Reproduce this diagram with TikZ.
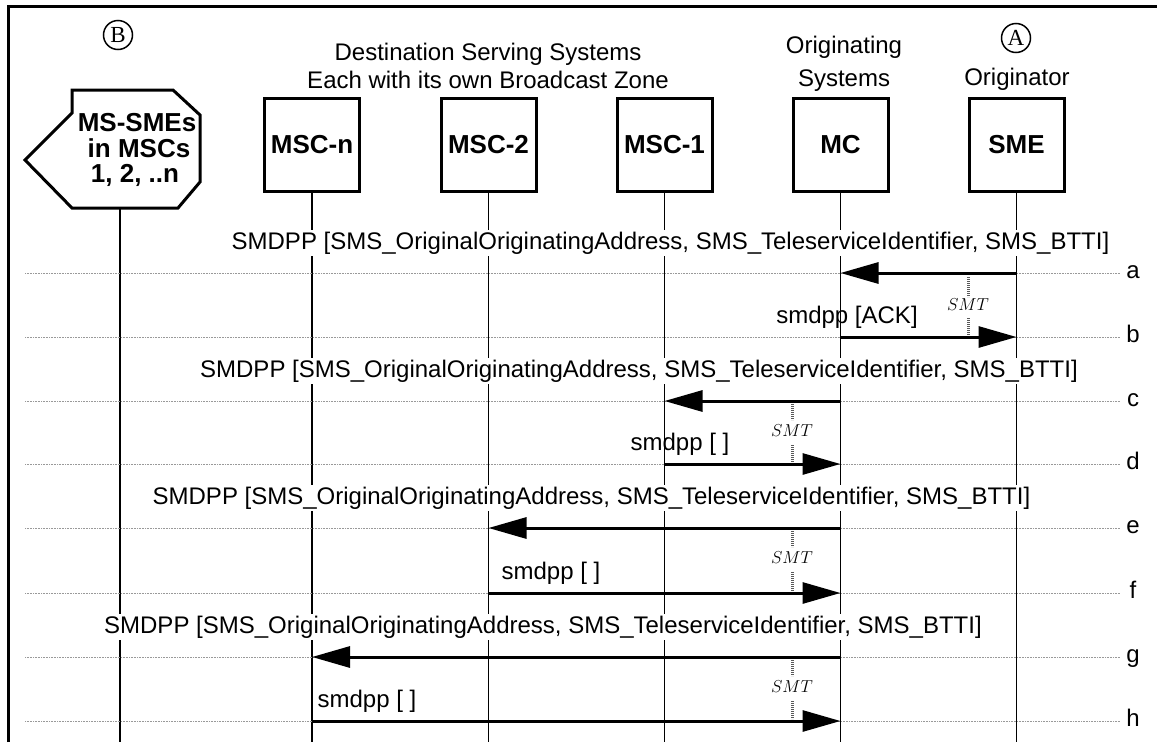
\documentclass[tikz,border=0pt]{standalone}
\usepackage{fontspec}
\setmainfont{Liberation Sans}
\newfontfamily\serifletters{Liberation Serif}
\usetikzlibrary{arrows.meta}
\begin{document}
\begin{tikzpicture}[x=1pt,y=-1pt,
  entbox/.style={draw,line width=3pt,minimum width=95pt,minimum height=93pt,inner sep=0pt,font=\fontsize{26}{30}\selectfont\bfseries},
  boldtxt/.style={anchor=base,inner sep=0pt,font=\fontsize{26}{30}\selectfont\bfseries},
  headtxt/.style={anchor=base,inner sep=0pt,font=\fontsize{24}{28}\selectfont},
  circletag/.style={draw,circle,line width=1.5pt,minimum size=29pt,inner sep=0pt,font=\serifletters\fontsize{23}{25}\selectfont},
  lifeline/.style={line width=1.3pt},
  guide/.style={line width=1pt,black!40,dash pattern=on 0.8pt off 0.8pt},
  msgarrow/.style={line width=3pt,-{Triangle[length=38pt,width=21pt]}},
  biglabel/.style={anchor=base,fill=white,inner xsep=1pt,inner ysep=2pt,font=\fontsize{24}{28}\selectfont},
  smalllabel/.style={anchor=base,inner sep=0pt,font=\fontsize{24}{28}\selectfont},
  rowtag/.style={anchor=base,inner sep=0pt,font=\fontsize{24}{28}\selectfont},
  smtdash/.style={line width=3pt,black!65,dash pattern=on 1.2pt off 0.8pt},
  smttxt/.style={inner sep=0pt,font=\fontsize{18}{20}\selectfont}
]
\useasboundingbox (0,0) rectangle (1157,742);
% frame
\draw[line width=3pt] (8,742) -- (8,6) -- (1157,6);

% coordinates
\coordinate (bot) at (0,742);
\coordinate (gl) at (25,0);
\coordinate (gr) at (1120,0);
\coordinate (tagx) at (1133,0);
\coordinate (rowa) at (0,273);
\coordinate (rowb) at (0,337);
\coordinate (rowc) at (0,401);
\coordinate (rowd) at (0,464);
\coordinate (rowe) at (0,528);
\coordinate (rowf) at (0,593);
\coordinate (rowg) at (0,657);
\coordinate (rowh) at (0,721);

% headings
\node[circletag] (tagB) at (118,35) {B};
\node[circletag] (tagA) at (1016,38) {A};
\node[headtxt] (dest1) at (488,60) {Destination Serving Systems};
\node[headtxt] (dest2) at (488,88) {Each with its own Broadcast Zone};
\node[headtxt] (orig1) at (844,53) {Originating};
\node[headtxt] (orig2) at (844,86) {Systems};
\node[headtxt] (orig3) at (1017,85) {Originator};

% MS-SMEs shape
\draw[line width=3pt,line join=miter] (72,90) -- (173,90) -- (200,115) -- (200,182) -- (178,208) -- (72,208) -- (25,160) -- (72,113) -- cycle;
\coordinate (ms) at (120,208);
\node[boldtxt] (ms1) at (137,131) {MS-SMEs};
\node[boldtxt] (ms2) at (139,157) {in MSCs};
\node[boldtxt] (ms3) at (135,182) {1, 2, ..n};

% entity boxes
\node[entbox] (mscn) at (312,145) {MSC-n};
\node[entbox] (msc2) at (488.5,145) {MSC-2};
\node[entbox] (msc1) at (664.5,145) {MSC-1};
\node[entbox] (mc) at (840.5,145) {MC};
\node[entbox] (sme) at (1016.5,145) {SME};

% lifelines
\draw[lifeline] (ms) -- (ms |- bot);
\draw[lifeline] (mscn.south) -- (mscn |- bot);
\draw[lifeline] (msc2.south) -- (msc2 |- bot);
\draw[lifeline] (msc1.south) -- (msc1 |- bot);
\draw[lifeline] (mc.south) -- (mc |- bot);
\draw[lifeline] (sme.south) -- (sme |- bot);

% guide lines
\foreach \r in {a,b,c,d,e,f,g,h}{
  \draw[guide] (gl |- row\r) -- (gr |- row\r);
}

% row tags
\foreach \r in {a,b,c,d,e,f,g,h}{
  \node[rowtag] (tag\r) at ([yshift=-5pt]tagx |- row\r) {\r};
}

% messages
\node[biglabel] (la) at (670.5,249.5) {SMDPP [SMS\_OriginalOriginatingAddress, SMS\_TeleserviceIdentifier, SMS\_BTTI]};
\draw[msgarrow] (sme |- rowa) -- (mc |- rowa);
\node[smalllabel] (lb) at (847,323) {smdpp [ACK]};
\draw[msgarrow] (mc |- rowb) -- (sme |- rowb);

\node[biglabel] (lc) at (639,377.5) {SMDPP [SMS\_OriginalOriginatingAddress, SMS\_TeleserviceIdentifier, SMS\_BTTI]};
\draw[msgarrow] (mc |- rowc) -- (msc1 |- rowc);
\node[smalllabel] (ld) at (680,450) {smdpp [ ]};
\draw[msgarrow] (msc1 |- rowd) -- (mc |- rowd);

\node[biglabel] (le) at (591.5,504.5) {SMDPP [SMS\_OriginalOriginatingAddress, SMS\_TeleserviceIdentifier, SMS\_BTTI]};
\draw[msgarrow] (mc |- rowe) -- (msc2 |- rowe);
\node[smalllabel] (lf) at (551,579) {smdpp [ ]};
\draw[msgarrow] (msc2 |- rowf) -- (mc |- rowf);

\node[biglabel] (lg) at (543,633) {SMDPP [SMS\_OriginalOriginatingAddress, SMS\_TeleserviceIdentifier, SMS\_BTTI]};
\draw[msgarrow] (mc |- rowg) -- (mscn |- rowg);
\node[smalllabel] (lh) at (367,707) {smdpp [ ]};
\draw[msgarrow] (mscn |- rowh) -- (mc |- rowh);

% SMT timers
\draw[smtdash] (968,277) -- (968,297);
\node[smttxt] (smt1) at (968,305) {$SMT$};
\draw[smtdash] (968,318) -- (968,335);

\draw[smtdash] (792,404) -- (792,420);
\node[smttxt] (smt2) at (792,431) {$SMT$};
\draw[smtdash] (792,445) -- (792,462);

\draw[smtdash] (792,531) -- (792,547);
\node[smttxt] (smt3) at (792,558) {$SMT$};
\draw[smtdash] (792,572) -- (792,591);

\draw[smtdash] (792,660) -- (792,676);
\node[smttxt] (smt4) at (792,687) {$SMT$};
\draw[smtdash] (792,701) -- (792,719);
\end{tikzpicture}
\end{document}
